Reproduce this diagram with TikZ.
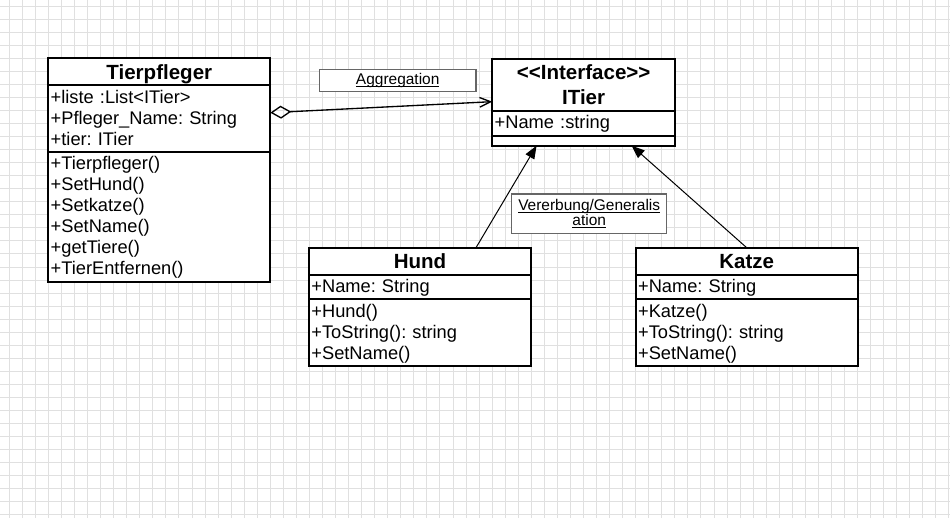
\documentclass[tikz,border=0pt]{standalone}
\usepackage{fontspec}
\setmainfont{Liberation Sans}
\usetikzlibrary{arrows.meta, shapes.multipart, positioning}
\setlength{\parindent}{0pt}
\frenchspacing
\newcommand{\rowstrut}{\rule[-3.75pt]{0pt}{15.75pt}}
\newcommand{\headstrut}{\rule[-3.2pt]{0pt}{17.4pt}}
\newcommand{\centred}[1]{\leavevmode\null\hfill#1\hfill\null}
\newcommand{\classname}[1]{{\fontsize{15.4pt}{18.75pt}\selectfont\bfseries#1\par}}
\newcommand{\ulabel}[1]{\setbox0\hbox{#1}\rlap{\rule[-2.1pt]{\wd0}{0.75pt}}\box0}

\begin{document}
\begin{tikzpicture}[x=0.75pt, y=-0.75pt,
  gridline/.style={draw=black!12, line width=0.75pt},
  uml/.style={rectangle split, rectangle split parts=3, draw, fill=white, line width=1.5pt,
    inner xsep=1.8pt, inner ysep=0.65pt, outer sep=0pt, align=left, anchor=north west,
    font=\fontsize{13.7pt}{15.75pt}\selectfont},
  note/.style={draw=black!60, line width=1pt, fill=white, inner sep=0pt, outer sep=0pt,
    align=center, font=\fontsize{11.6pt}{11.5pt}\selectfont},
  aggr/.style={line width=1pt, {Diamond[open, length=15.75pt, width=9.75pt]}-{Straight Barb[length=8.25pt, width=7.2pt]}},
  inherit/.style={line width=0.75pt, -{Triangle[length=9.75pt, width=7.5pt]}}]
\useasboundingbox (0,0) rectangle (950,518);
\fill[white] (0,0) rectangle (950,518);
\foreach \gx in {0,...,72} \draw[gridline] (9.3+13.05*\gx,0) -- (9.3+13.05*\gx,518);
\foreach \gy in {0,...,39} \draw[gridline] (0,6+13.05*\gy) -- (950,6+13.05*\gy);

\node[uml, text width=162.9pt] (pfl) at (48.3,58.3) {\classname{\centred{\headstrut Tierpfleger}}
  \nodepart{two}\rowstrut+liste :List<ITier>\\\rowstrut+Pfleger\_Name: String\\\rowstrut+tier: ITier
  \nodepart{three}\rowstrut+Tierpfleger()\\\rowstrut+SetHund()\\\rowstrut+Setkatze()\\\rowstrut+SetName()\\\rowstrut+getTiere()\\\rowstrut+TierEntfernen()};
\node[uml, text width=133.4pt] (tier) at (492.3,59) {\classname{\centred{\headstrut <{}<Interface>{}>}\par\centred{\headstrut ITier}}
  \nodepart{two}\rowstrut+Name :string
  \nodepart{three}\rule{0pt}{4.7pt}};
\node[uml, text width=162.9pt] (hund) at (309,247.7) {\classname{\centred{\headstrut Hund}}
  \nodepart{two}\rowstrut+Name: String
  \nodepart{three}\rowstrut+Hund()\\\rowstrut+ToString(): string\\\rowstrut+SetName()};
\node[uml, text width=162.9pt] (katze) at (635.7,247.7) {\classname{\centred{\headstrut Katze}}
  \nodepart{two}\rowstrut+Name: String
  \nodepart{three}\rowstrut+Katze()\\\rowstrut+ToString(): string\\\rowstrut+SetName()};

\node[note, minimum width=117.5pt, minimum height=16.8pt, text height=8.25pt, text depth=2.55pt] (agglbl) at (397.7,80.5) {\ulabel{Aggregation}};
\node[note, minimum width=116.25pt, minimum height=29.5pt] (inhlbl) at (589.2,213.7) {\ulabel{Vererbung/Generalis}\\\ulabel{ation}};

\draw[aggr] ([yshift=-40.8pt]pfl.north east) -- ([yshift=-32pt]tier.north west);
\draw[inherit] ([xshift=42pt]hund.north) -- ([xshift=-35.3pt]tier.south);
\draw[inherit] (katze.north) -- ([xshift=36pt]tier.south);
\end{tikzpicture}
\end{document}
